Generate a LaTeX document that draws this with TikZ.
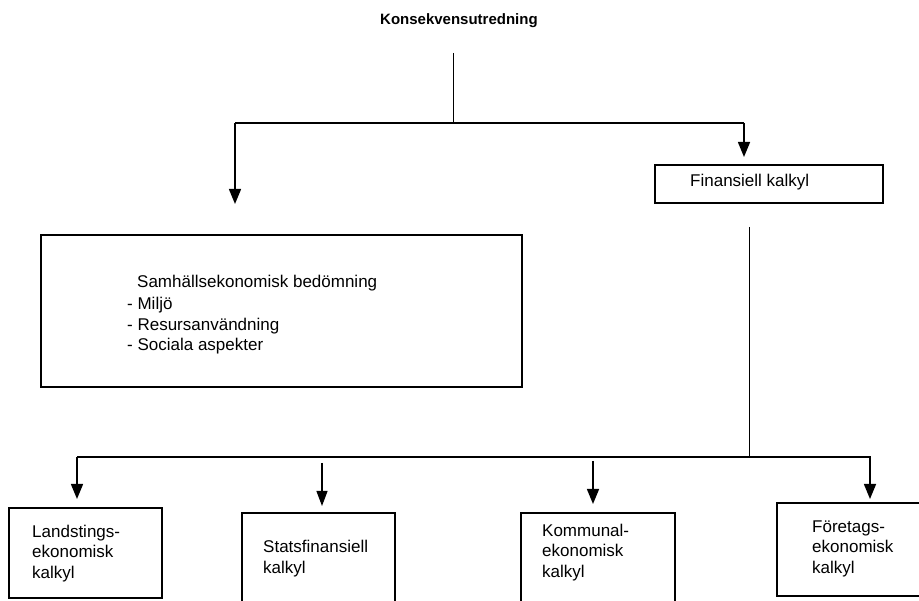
\documentclass[tikz,border=0pt]{standalone}
\usepackage{fontspec}
\setmainfont{Liberation Sans}
\usetikzlibrary{arrows.meta}

\begin{document}
\begin{tikzpicture}[x=1pt,y=-1pt]
    \tikzset{%
      box/.style={draw, line width=1.6pt, inner sep=0pt},
      txt/.style={anchor=base west, inner sep=0pt, align=left,
        font=\fontsize{17}{20.5}\selectfont},
      title/.style={anchor=base west, inner sep=0pt,
        font=\fontsize{15}{18}\selectfont\bfseries},
      line/.style={line width=1.5pt},
      thin/.style={line width=1pt},
      arr/.style={line width=1.5pt, -{Triangle[length=15pt,width=12pt]}},
      tarr/.style={line width=1.1pt, -{Triangle[length=15pt,width=11pt]}},
    }
    \useasboundingbox (0,0) rectangle (919,601);
    \clip (0,0) rectangle (919,601);

    \node[title] (title) at (380,25) {Konsekvensutredning};

    % boxes
    \node[box, minimum width=481pt, minimum height=152pt] (samh) at (281.5,311) {};
    \node[box, minimum width=228pt, minimum height=38pt] (fin) at (769,184) {};
    \node[box, minimum width=153pt, minimum height=90pt] (land) at (85.5,553) {};
    \node[box, minimum width=153pt, minimum height=110pt] (stat) at (318.5,568) {};
    \node[box, minimum width=154pt, minimum height=110pt] (komm) at (598,568) {};
    \node[box, minimum width=160pt, minimum height=93pt] (fore) at (857,549.5) {};

    % text (base = last line)
    \node[txt] (finT) at (690,187) {Finansiell kalkyl};
    \node[txt] (samhT) at (127,351) {\hspace*{10pt}Samhällsekonomisk bedömning\\[1.5pt]
      - Miljö\\- Resursanvändning\\- Sociala aspekter};
    \node[txt] (landT) at (32,578) {Landstings-\\ekonomisk\\kalkyl};
    \node[txt] (statT) at (263,573) {Statsfinansiell\\kalkyl};
    \node[txt] (kommT) at (542,577) {Kommunal-\\ekonomisk\\kalkyl};
    \node[txt] (foreT) at (812,573) {Företags-\\ekonomisk\\kalkyl};

    % upper tree
    \coordinate (top) at (453,53);
    \coordinate (split) at (453,123);
    \coordinate (hl) at (235,123);
    \coordinate (hr) at (744,123);
    \coordinate (samhIn) at (235,204);
    \coordinate (finIn) at (744,157);
    \draw [thin] (top) -- (split);
    \draw [line] (hl) -- (hr);
    \draw [arr] (hl) -- (samhIn);
    \draw [arr] (hr) -- (finIn);

    % lower tree
    \coordinate (finOut) at (749,227);
    \coordinate (bsplit) at (749,457);
    \coordinate (bl) at (77,457);
    \coordinate (br) at (871,457);
    \draw [thin] (finOut) -- (bsplit);
    \draw [line] (bl) -- (br);
    \coordinate (landIn) at (77,499);
    \coordinate (statA) at (322,463);
    \coordinate (statIn) at (322,506);
    \coordinate (kommA) at (593,461);
    \coordinate (kommIn) at (593,504);
    \coordinate (foreA) at (870,457);
    \coordinate (foreIn) at (870,499);
    \draw [arr] (bl) -- (landIn);
    \draw [tarr] (statA) -- (statIn);
    \draw [arr] (kommA) -- (kommIn);
    \draw [arr] (foreA) -- (foreIn);
\end{tikzpicture}
\end{document}
